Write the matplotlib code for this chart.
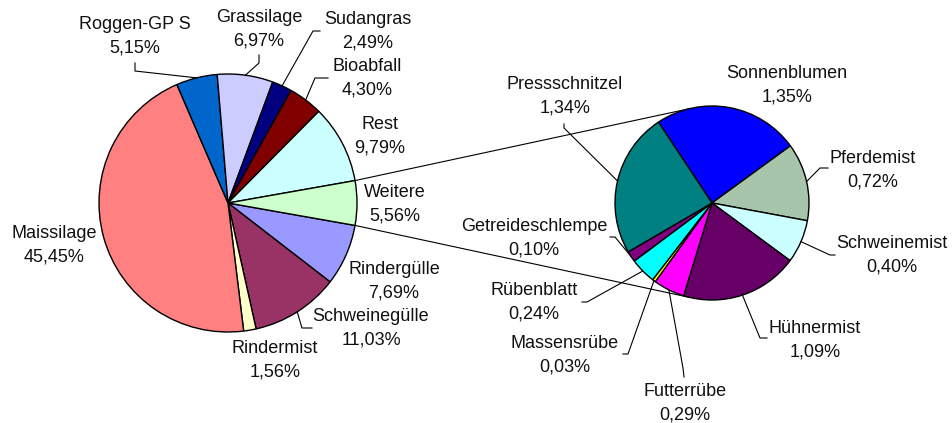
import numpy as np
import matplotlib
matplotlib.use("Agg")
import matplotlib.pyplot as plt

plt.rcParams['font.family'] = ['Liberation Sans', 'DejaVu Sans']

# Substrate im Hauptkreis, im Uhrzeigersinn ab "Rindergülle" (Anteile in %)
main_names = ["Rindergülle", "Schweinegülle", "Rindermist", "Maissilage", "Roggen-GP S",
              "Grassilage", "Sudangras", "Bioabfall", "Rest", "Weitere"]
main_shares = [7.69, 11.03, 1.56, 45.45, 5.15, 6.97, 2.49, 4.30, 9.79, 5.56]
main_colors = ["#9999FF", "#993366", "#FFFFCC", "#FF8080", "#0066CC",
               "#CCCCFF", "#000080", "#800000", "#CCFFFF", "#CCFFCC"]

# Aufteilung von "Weitere" im zweiten Kreis
sub_names = ["Sonnenblumen", "Pferdemist", "Schweinemist", "Hühnermist", "Futterrübe",
             "Massensrübe", "Rübenblatt", "Getreideschlempe", "Pressschnitzel"]
sub_shares = [1.35, 0.72, 0.40, 1.09, 0.29, 0.03, 0.24, 0.10, 1.34]
sub_colors = ["#0000FF", "#A6C5AB", "#CCFFFF", "#660066", "#FF00FF",
              "#FFFF00", "#00FFFF", "#800080", "#008080"]

W, H = 953, 423

# label centres (pixel, y from top) and leader line points on the label side
main_label_pos = {
    "Roggen-GP S": (135, 36), "Grassilage": (259, 29.5), "Sudangras": (368, 31.5),
    "Bioabfall": (367, 78.5), "Rest": (380, 136), "Weitere": (395, 204),
    "Rindergülle": (394, 281.5), "Schweinegülle": (371, 328.5),
    "Rindermist": (275, 360), "Maissilage": (54, 245),
}
main_leaders = {
    "Roggen-GP S": [(135, 63), (135, 71)],
    "Grassilage": [(259, 55), (259, 63)],
    "Sudangras": [(320, 31), (313, 31)],
    "Bioabfall": [(328, 78), (315, 78)],
    "Schweinegülle": [(312, 328), (302, 328)],
}
sub_label_pos = {
    "Sonnenblumen": (787, 85), "Pressschnitzel": (565, 96.5), "Pferdemist": (873, 170),
    "Schweinemist": (892, 255), "Hühnermist": (815, 340), "Futterrübe": (685, 403.5),
    "Massensrübe": (565, 355.5), "Rübenblatt": (534, 302.5),
    "Getreideschlempe": (534, 238),
}
sub_leaders = {
    "Pressschnitzel": [(564, 124), (564, 128)],
    "Pferdemist": [(828, 168), (820, 168)],
    "Schweinemist": [(835, 255), (830, 255)],
    "Hühnermist": [(767, 338), (760, 338)],
    "Futterrübe": [(684, 377), (683, 368)],
    "Massensrübe": [(623, 354), (628, 354)],
    "Rübenblatt": [(582, 302), (587, 302)],
    "Getreideschlempe": [(610, 237), (615, 237)],
}

main_center, main_r = (228, H - 203), 129
sub_center, sub_r = (712, H - 203), 97


def pct(v):
    return f"{v:.2f}".replace(".", ",") + "%"


def edge_point(center, r, ang):
    a = np.radians(ang)
    return center[0] + r * np.cos(a), center[1] + r * np.sin(a)


fig = plt.figure(figsize=(W / 100, H / 100), dpi=100)
ax = fig.add_axes([0, 0, 1, 1])

wp = dict(edgecolor="black", linewidth=1.0)
# "Weitere" sits centred on the 3 o'clock position
main_start = -360 * main_shares[-1] / sum(main_shares) / 2
main_wedges, _ = ax.pie(main_shares, colors=main_colors, startangle=main_start,
                        counterclock=False, center=main_center, radius=main_r,
                        wedgeprops=wp, frame=True)
sub_wedges, _ = ax.pie(sub_shares, colors=sub_colors, startangle=123.5,
                       counterclock=False, center=sub_center, radius=sub_r,
                       wedgeprops=wp, frame=True)
ax.set_xlim(0, W)
ax.set_ylim(0, H)
ax.set_aspect("equal")
ax.axis("off")

# connector lines between "Weitere" and the second pie
w = main_wedges[-1]
p_top = edge_point(main_center, main_r, w.theta2)
p_bot = edge_point(main_center, main_r, w.theta1)
q_top = edge_point(sub_center, sub_r, 104)
q_bot = edge_point(sub_center, sub_r, -103)
ax.plot([p_top[0], q_top[0]], [p_top[1], q_top[1]], color="black", lw=0.8, zorder=0)
ax.plot([p_bot[0], q_bot[0]], [p_bot[1], q_bot[1]], color="black", lw=0.8, zorder=0)


def draw_labels(names, shares, wedges, center, r, positions, leaders):
    for name, val, wdg in zip(names, shares, wedges):
        x, y = positions[name]
        ax.text(x, H - y, f"{name}\n{pct(val)}", ha="center", va="center",
                fontsize=13, linespacing=1.5, color="#111111")
        if name in leaders:
            mid = (wdg.theta1 + wdg.theta2) / 2
            ex, ey = edge_point(center, r, mid)
            xs = [p[0] for p in leaders[name]] + [ex]
            ys = [H - p[1] for p in leaders[name]] + [ey]
            ax.plot(xs, ys, color="black", lw=0.8)


draw_labels(main_names, main_shares, main_wedges, main_center, main_r,
            main_label_pos, main_leaders)
draw_labels(sub_names, sub_shares, sub_wedges, sub_center, sub_r,
            sub_label_pos, sub_leaders)

fig.savefig("out.png", dpi=100, facecolor="white")
